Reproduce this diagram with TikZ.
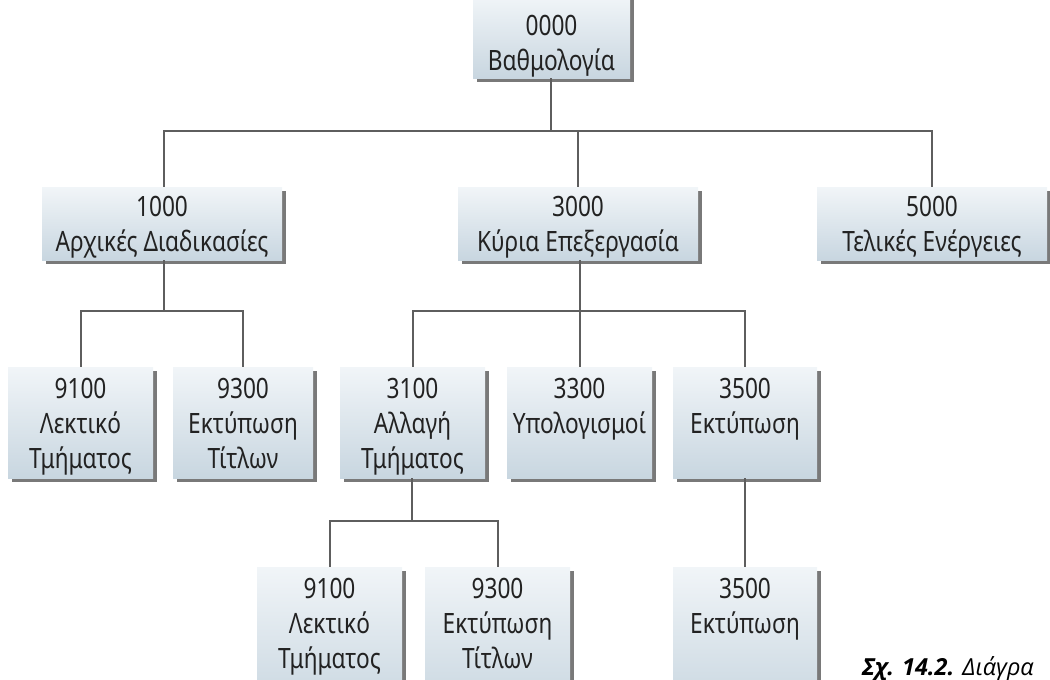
\documentclass[tikz,border=0pt]{standalone}
\usepackage{fontspec}
\setmainfont[FakeStretch=0.81]{Noto Sans}
\newfontfamily\capfont{Open Sans}
\usetikzlibrary{shadows}
\definecolor{boxtop}{HTML}{F1F5F8}
\definecolor{boxbot}{HTML}{C8D6E0}
\definecolor{txt}{HTML}{222222}
\definecolor{conn}{HTML}{5E5E5E}
\newcommand\blines[2]{\raisebox{#1}[\height][\depth]{\begin{tabular}{@{}c@{}}#2\end{tabular}}}
\tikzset{
  box/.style={rectangle, inner sep=0pt, text=txt,
    top color=boxtop, bottom color=boxbot,
    font=\fontsize{28}{35}\selectfont,
    drop shadow={shadow xshift=4pt, shadow yshift=-4pt, fill=black!70, opacity=0.75}},
  conn/.style={draw=conn, line width=2pt},
}
\begin{document}
\begin{tikzpicture}[x=1pt,y=-1pt]
\useasboundingbox (0,0) rectangle (1050,680);
\clip (0,0) rectangle (1050,680);
% level 1
\node[box, minimum width=157pt, minimum height=82pt] (n0000) at (551.5,37) {\blines{-8.5pt}{0000\\Βαθμολογία}};
% level 2
\node[box, minimum width=240pt, minimum height=73pt] (n1000) at (162,223.5) {\blines{-3pt}{1000\\Αρχικές Διαδικασίες}};
\node[box, minimum width=240pt, minimum height=73pt] (n3000) at (578,223.5) {\blines{-3pt}{3000\\Κύρια Επεξεργασία}};
\node[box, minimum width=230pt, minimum height=73pt] (n5000) at (932,223.5) {\blines{-3pt}{5000\\Τελικές Ενέργειες}};
% level 3
\node[box, minimum width=145pt, minimum height=111pt] (a9100) at (80.5,422.5) {\blines{-3.5pt}{9100\\Λεκτικό\\Τμήματος}};
\node[box, minimum width=140pt, minimum height=111pt] (a9300) at (243,422.5) {\blines{-3.5pt}{9300\\Εκτύπωση\\Τίτλων}};
\node[box, minimum width=145pt, minimum height=111pt] (n3100) at (412.5,422.5) {\blines{-3.5pt}{3100\\Αλλαγή\\Τμήματος}};
\node[box, minimum width=145pt, minimum height=111pt] (n3300) at (579.5,422.5) {\blines{-3.5pt}{3300\\Υπολογισμοί\\\mbox{}}};
\node[box, minimum width=144pt, minimum height=111pt] (n3500) at (745,422.5) {\blines{-3.5pt}{3500\\Εκτύπωση\\\mbox{}}};
% level 4
\node[box, minimum width=145pt, minimum height=144pt] (b9100) at (329.5,639) {\blines{13pt}{9100\\Λεκτικό\\Τμήματος}};
\node[box, minimum width=145pt, minimum height=144pt] (b9300) at (497.5,639) {\blines{13pt}{9300\\Εκτύπωση\\Τίτλων}};
\node[box, minimum width=144pt, minimum height=144pt] (b3500) at (745,639) {\blines{13pt}{3500\\Εκτύπωση\\\mbox{}}};
% connectors
\coordinate (j1) at (551,131);
\draw[conn] (n0000.south -| j1) -- (j1);
\draw[conn] (n1000.north -| 164,0) |- (j1) -| (n5000.north);
\draw[conn] (j1) -| (n3000.north);
\coordinate (j2) at (164,311);
\draw[conn] (n1000.south -| j2) -- (j2);
\draw[conn] (a9100.north) |- (j2) -| (a9300.north);
\coordinate (j3) at (580,311);
\draw[conn] (n3000.south -| j3) -- (n3300.north -| j3);
\draw[conn] (n3100.north) |- (j3) -| (n3500.north);
\coordinate (j4) at (412,521);
\draw[conn] (n3100.south -| j4) -- (j4);
\draw[conn] (b9100.north) |- (j4) -| (b9300.north);
\draw[conn] (n3500.south) -- (b3500.north);
% caption
\node[anchor=base west, inner sep=0pt, text=black, font=\capfont\fontsize{23.5}{26}\selectfont] (cap) at (862,675) {\textbf{\textit{Σχ. 14.2.}} \textit{Διάγρα}};
\end{tikzpicture}
\end{document}
